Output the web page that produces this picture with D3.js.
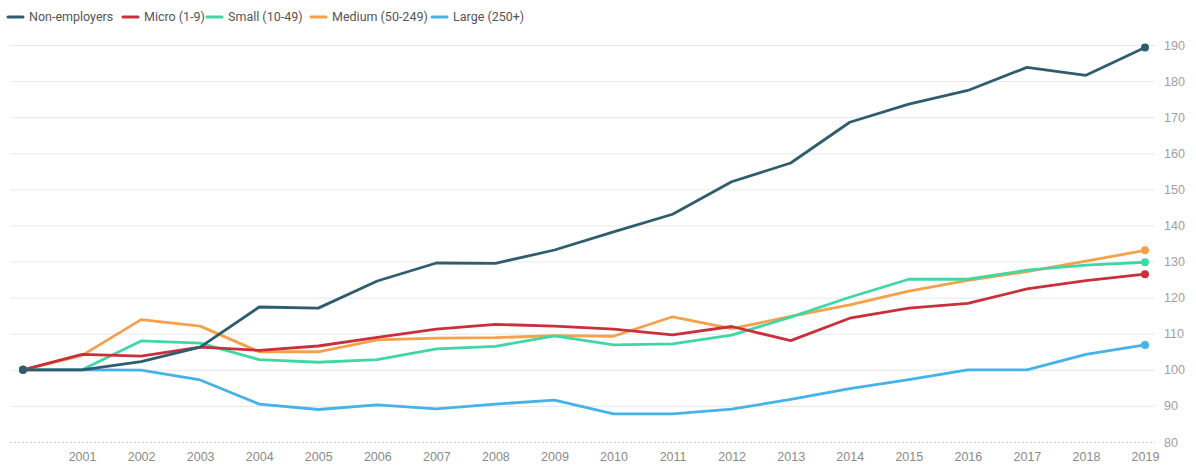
<!DOCTYPE html>
<html>
<head>
<meta charset="utf-8">
<script src="https://cdn.jsdelivr.net/npm/d3@7"></script>
<style>
  html, body { margin: 0; padding: 0; background: #fff; }
  svg { display: block; font-family: Roboto, "Noto Sans", sans-serif; }
</style>
</head>
<body>
<svg id="chart" width="1196" height="468"></svg>
<script>
// Index of employment by enterprise size class (2000 = 100)
const years = d3.range(2000, 2020);
const yTicks = [80, 90, 100, 110, 120, 130, 140, 150, 160, 170, 180, 190];

const nonEmployers = [100, 100, 102.3, 106.3, 117.4, 117.1, 124.6, 129.6, 129.5, 133.2, 138.2, 143.1, 152.1, 157.3, 168.6, 173.6, 177.4, 183.8, 181.6, 189.3];
const micro        = [100, 104.3, 103.8, 106.3, 105.4, 106.6, 109.0, 111.3, 112.6, 112.1, 111.3, 109.7, 112.0, 108.1, 114.3, 117.1, 118.4, 122.4, 124.7, 126.5];
const small        = [100, 100, 108.0, 107.4, 102.8, 102.1, 102.8, 105.8, 106.5, 109.4, 106.9, 107.2, 109.6, 114.6, 120.1, 125.1, 125.1, 127.6, 129.0, 129.8];
const medium       = [100, 104.0, 113.9, 112.1, 105.0, 105.0, 108.3, 108.8, 108.9, 109.5, 109.3, 114.7, 111.4, 114.8, 118.0, 121.8, 124.8, 127.2, 130.1, 133.1];
const large        = [100, 100, 99.9, 97.2, 90.5, 89.0, 90.3, 89.2, 90.5, 91.6, 87.8, 87.8, 89.1, 91.8, 94.8, 97.3, 100.0, 100.0, 104.3, 106.9];

const seriesNames  = ["Non-employers", "Micro (1-9)", "Small (10-49)", "Medium (50-249)", "Large (250+)"];
const seriesValues = [nonEmployers, micro, small, medium, large];
const seriesColors = ["#2f5d6e", "#c9303c", "#3fd8a4", "#f5a04a", "#45b3e8"];

const series = seriesNames.map((name, i) => ({
  name, color: seriesColors[i],
  values: years.map((yr, j) => ({ year: yr, value: seriesValues[i][j] }))
}));

const svg = d3.select("#chart");

const x = d3.scaleLinear().domain([2000, 2019]).range([23, 1145]);
const y = d3.scaleLinear().domain([80, 190]).range([442, 45]);

const gridLeft = 10, gridRight = 1155;

// horizontal gridlines + right-side labels
const yAxis = d3.axisRight(y)
  .tickValues(yTicks)
  .tickSize(gridRight - gridLeft)
  .tickPadding(9)
  .tickFormat(d3.format("d"));

const gy = svg.append("g")
  .attr("transform", `translate(${gridLeft},0)`)
  .call(yAxis);
gy.select(".domain").remove();
gy.selectAll(".tick line")
  .attr("stroke", d => d === 80 ? "#c8c8c8" : "#e8e8e8")
  .attr("stroke-dasharray", d => d === 80 ? "2,2" : null);
gy.selectAll(".tick text")
  .attr("fill", "#a0a0a0")
  .attr("font-size", 12.5)
  .attr("dy", "0.32em");

// year labels along the bottom
const xAxis = d3.axisBottom(x)
  .tickValues(years.slice(1))
  .tickSize(0)
  .tickPadding(8)
  .tickFormat(d3.format("d"));
const gx = svg.append("g")
  .attr("transform", `translate(0,${y(80) + 2})`)
  .call(xAxis);
gx.select(".domain").remove();
gx.selectAll(".tick text")
  .attr("fill", "#8a8a8a")
  .attr("font-size", 12.5);

// lines, drawn so that Non-employers ends up on top
const line = d3.line()
  .x(d => x(d.year))
  .y(d => y(d.value));

const drawOrder = series.slice().reverse();

svg.append("g").selectAll("path")
  .data(drawOrder)
  .join("path")
  .attr("fill", "none")
  .attr("stroke", d => d.color)
  .attr("stroke-width", 2.8)
  .attr("stroke-linejoin", "round")
  .attr("stroke-linecap", "round")
  .attr("d", d => line(d.values));

// end-point markers
const dots = [];
drawOrder.forEach(s => {
  dots.push({ color: s.color, p: s.values[0] });
  dots.push({ color: s.color, p: s.values[s.values.length - 1] });
});
svg.append("g").selectAll("circle")
  .data(dots)
  .join("circle")
  .attr("cx", d => x(d.p.year))
  .attr("cy", d => y(d.p.value))
  .attr("r", 4)
  .attr("fill", d => d.color);

// legend
const legendX = [8, 123, 207, 311, 432];
const lg = svg.append("g").selectAll("g")
  .data(series)
  .join("g")
  .attr("transform", (d, i) => `translate(${legendX[i]},17)`);
lg.append("line")
  .attr("x1", 0).attr("x2", 15)
  .attr("stroke", d => d.color)
  .attr("stroke-width", 3)
  .attr("stroke-linecap", "round");
lg.append("text")
  .attr("x", 21)
  .attr("dy", "0.35em")
  .attr("font-size", 12.5)
  .attr("fill", "#555")
  .text(d => d.name);
</script>
</body>
</html>
